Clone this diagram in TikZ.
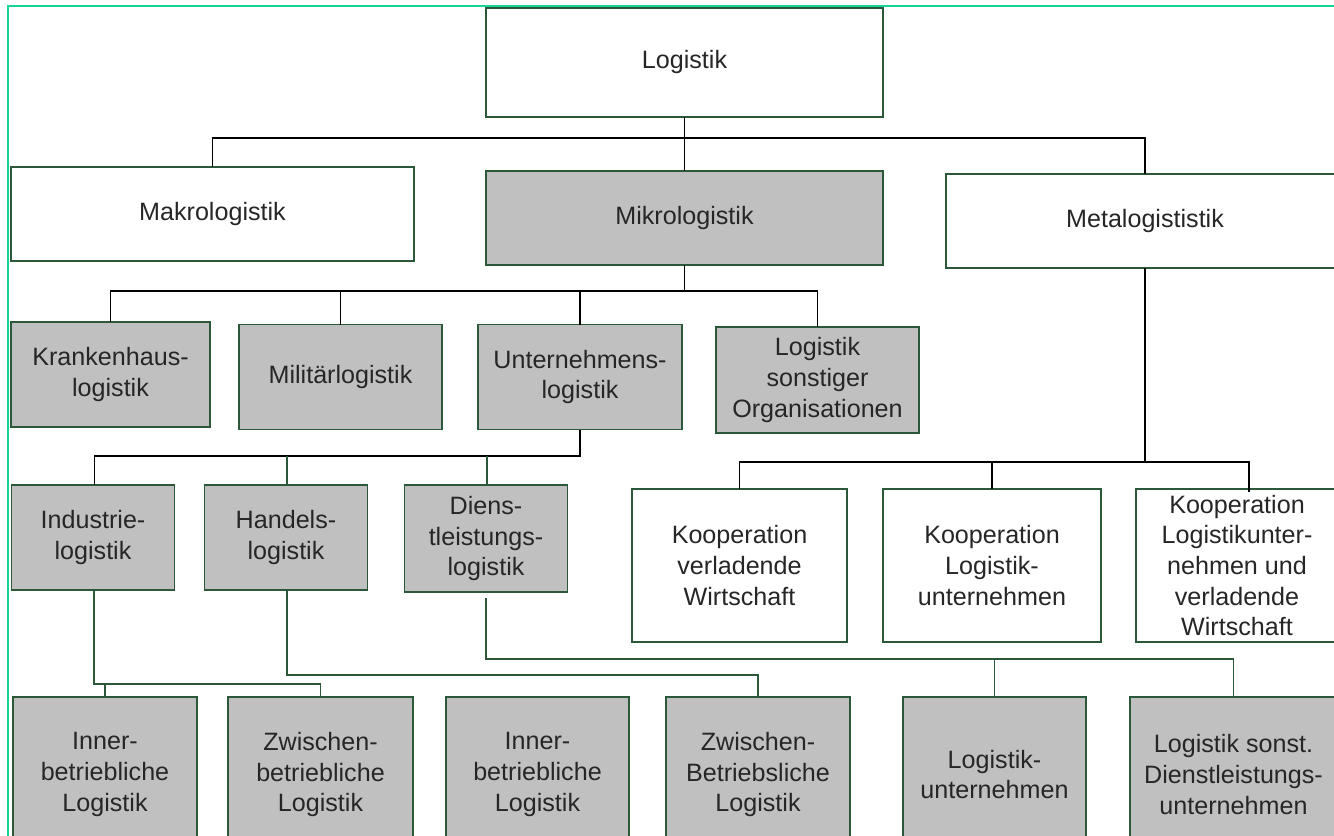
\documentclass[tikz,border=0pt]{standalone}
\usepackage{fontspec}
\setmainfont{Liberation Sans}

\begin{document}
\begin{tikzpicture}[x=0.02cm, y=-0.02cm]

        \def\px{0.02}               % one pixel of the layout in cm
        \definecolor{rahmen}{RGB}{20,212,150}
        \definecolor{kante}{RGB}{44,88,58}
        \definecolor{fuell}{RGB}{192,192,192}
        \tikzstyle{unit}=[draw=kante, line width=1.1pt, inner sep=0pt, outer sep=0pt, align=center,
                text=black!85, font={\fontsize{14.3pt}{17.4pt}\selectfont}]
        \tikzstyle{grau}=[unit, fill=fuell]
        \tikzstyle{weiss}=[unit, fill=white]
        \tikzstyle{link}=[line width=1pt, black]
        \tikzstyle{glink}=[line width=1pt, kante]
        \tikzset{wh/.style 2 args={minimum width=#1*\px cm, minimum height=#2*\px cm}}

        \useasboundingbox (0,0) rectangle (1334,835);
        \clip (0,0) rectangle (1334,835);

        % Frame
        \draw[rahmen, line width=1.2pt] (8,6) rectangle (1400,900);

        % Draw the top layers
        \node[weiss, wh={397}{109}] (Lg) at (684.5,62.5) {Logistik};
        \node[weiss, wh={403}{94}] (Mak) at (212.5,214) {Makrologistik};
        \node[grau, wh={397}{94}] (Mik) at (684.5,218) {Mikrologistik};
        \node[weiss, wh={398}{94}] (Met) at (1145,221) {Metalogististik};

        % Draw the Mikrologistik layer
        \node[grau, wh={199}{105}] (Ml-1) at (110.5,374.5) {Krankenhaus-\\logistik};
        \node[grau, wh={203}{105}] (Ml-2) at (340.5,377) {Militärlogistik};
        \node[grau, wh={204}{105}] (Ml-3) at (580,377) {Unternehmens-\\logistik};
        \node[grau, wh={203}{106}] (Ml-4) at (817.5,380) {Logistik\\sonstiger\\Organisationen};

        % Draw the Unternehmenslogistik layer
        \node[grau, wh={163}{105}] (Ul-1) at (93,537.5) {Industrie-\\logistik};
        \node[grau, wh={163}{105}] (Ul-2) at (286,537.5) {Handels-\\logistik};
        \node[grau, wh={163}{107}] (Ul-3) at (486,538.5) {Diens-\\tleistungs-\\logistik};

        % Draw the Metalogistik layer
        \node[weiss, wh={215}{153}] (Kl-1) at (739.5,565.5) {Kooperation\\verladende\\Wirtschaft};
        \node[weiss, wh={218}{153}] (Kl-2) at (992,565.5) {Kooperation\\Logistik-\\unternehmen};
        \node[weiss, wh={202}{153}] (Kl-3) at (1237,565.5) {Kooperation\\Logistikunter-\\nehmen und\\verladende\\Wirtschaft};

        % Draw the bottom layer
        \node[grau, wh={184}{155}] (Bl-1) at (105,774.5) {Inner-\\betriebliche\\Logistik};
        \node[grau, wh={185}{155}] (Bl-2) at (320.5,774.5) {Zwischen-\\betriebliche\\Logistik};
        \node[grau, wh={183}{155}] (Bl-3) at (537.5,774.5) {Inner-\\betriebliche\\Logistik};
        \node[grau, wh={184}{155}] (Bl-4) at (758,774.5) {Zwischen-\\Betriebsliche\\Logistik};
        \node[grau, wh={183}{155}] (Bl-5) at (994.5,774.5) {Logistik-\\unternehmen};
        \node[grau, wh={207}{155}] (Bl-6) at (1233.5,774.5) {Logistik sonst.\\Dienstleistungs-\\unternehmen};

        % Bus heights
        \coordinate (L1) at (684.5,138);
        \coordinate (L2) at (684.5,291);
        \coordinate (L3) at (580,456);
        \coordinate (M3) at (1145,462);
        \coordinate (I4) at (0,684);
        \coordinate (H4) at (0,675);
        \coordinate (D4) at (0,659);

        % Connect the boxes
        \draw[link] (Lg.south) -- (Mik.north);
        \draw[link] (Mak.north) |- (L1) -| (Met.north);
        \draw[link] (Mik.south) -- (L2);
        \draw[link] (Ml-1.north) |- (L2) -| (Ml-4.north);
        \foreach \n in {2,3}
                \draw[link] (Ml-\n.north) -- (Ml-\n.north |- L2);

        \draw[link] (Ml-3.south) -- (L3) -| ([xshift=1.5*\px cm]Ul-1.north);
        \foreach \n in {2,3}
                \draw[glink] ([xshift=1*\px cm]Ul-\n.north) -- ([xshift=1*\px cm]Ul-\n.north |- L3);

        \draw[link] (Met.south) -- (M3);
        \draw[link] (Kl-1.north) |- (M3) -| ([xshift=12*\px cm, yshift=-3*\px cm]Kl-3.north);
        \draw[link] (Kl-2.north) -- (Kl-2.north |- M3);

        % Lower connections
        \draw[glink] ([xshift=1*\px cm]Ul-1.south) |- (I4 -| Bl-2.north) -- (Bl-2.north);
        \draw[glink] (Bl-1.north) -- (Bl-1.north |- I4);
        \draw[glink] ([xshift=1*\px cm]Ul-2.south) |- (H4 -| Bl-4.north) -- (Bl-4.north);
        \draw[glink, shorten <=6*\px cm] (Ul-3.south) |- (D4 -| Bl-6.north) -- (Bl-6.north);
        \draw[glink] (Bl-5.north) -- (Bl-5.north |- D4);

\end{tikzpicture}
\end{document}
